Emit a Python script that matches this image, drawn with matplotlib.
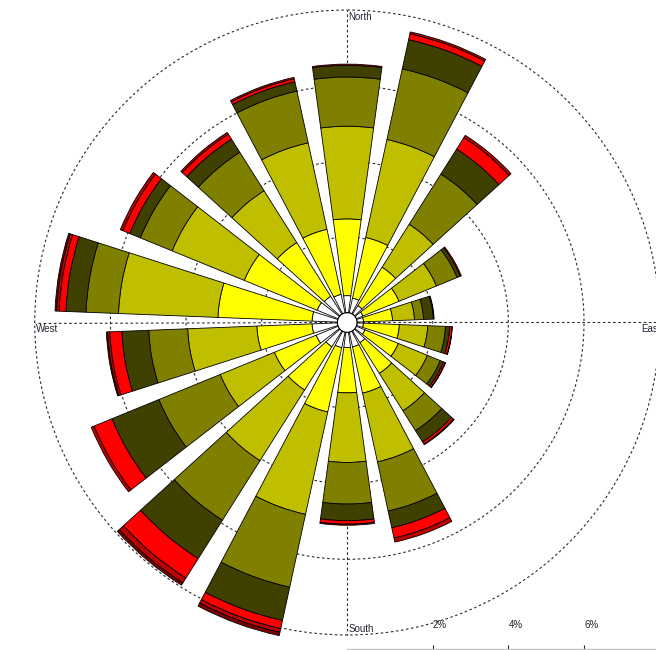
import numpy as np
import matplotlib
matplotlib.use("Agg")
import matplotlib.pyplot as plt

# ---------------- data (percent of time, per direction and speed bin) -------------
directions = [0, 20, 40, 60, 80, 100, 120, 140, 160, 180, 200, 220, 240, 260, 280, 300, 320, 340]

bin_1 = [0.45, 0.40, 0.27, 0.19, 0.17, 0.17, 0.25, 0.37, 0.40, 0.40, 0.42, 0.50, 0.63, 0.67, 0.67, 0.60, 0.56, 0.50]
bin_2 = [2.03, 1.64, 1.20, 1.03, 0.77, 0.95, 0.95, 0.96, 1.25, 1.20, 1.74, 1.35, 1.19, 1.46, 2.49, 2.08, 1.68, 1.76]
bin_3 = [2.45, 2.65, 1.34, 1.07, 0.58, 0.75, 0.83, 1.17, 1.86, 1.84, 2.77, 2.21, 1.55, 1.83, 2.63, 2.06, 1.62, 2.34]
bin_4 = [1.30, 1.91, 1.57, 0.59, 0.24, 0.47, 0.37, 0.62, 1.33, 1.10, 1.97, 1.86, 1.75, 1.03, 0.86, 0.91, 1.20, 1.40]
bin_5 = [0.31, 0.79, 0.78, 0.09, 0.26, 0.11, 0.09, 0.35, 0.45, 0.44, 0.90, 1.20, 1.34, 0.71, 0.53, 0.30, 0.41, 0.25]
bin_6 = [0.03, 0.16, 0.36, 0.03, 0.02, 0.06, 0.05, 0.07, 0.28, 0.09, 0.22, 0.61, 0.51, 0.32, 0.18, 0.20, 0.16, 0.08]
bin_7 = [0.00, 0.05, 0.07, 0.00, 0.00, 0.01, 0.01, 0.02, 0.11, 0.03, 0.10, 0.15, 0.08, 0.06, 0.07, 0.07, 0.05, 0.04]
bin_8 = [0.00, 0.00, 0.00, 0.00, 0.00, 0.00, 0.00, 0.00, 0.00, 0.00, 0.09, 0.07, 0.00, 0.03, 0.04, 0.00, 0.00, 0.00]

bin_colors = ["#FFFFFF", "#FFFF00", "#BFBF00", "#808000", "#404000",
              "#FF0000", "#BF0000", "#800000"]

compass_labels = ["North", "East", "South", "West"]
compass_angles = [0, 90, 180, 270]
ring_values = [2, 4, 6, 8]
scale_ticks = [2, 4, 6]
scale_labels = ["2%", "4%", "6%"]

# ---------------- figure -------------
plt.rcParams['font.family'] = ['Liberation Sans', 'DejaVu Sans']
fig = plt.figure(figsize=(6.56, 6.5), dpi=100)
fig.patch.set_facecolor("white")

W, H = 656.0, 650.0
cx, cy = 347.2, 322.5          # centre in pixels (from top-left)
px_per_pct = 37.83
offset = 0.26                  # central hole, in percent units
rmax = 8.6
R = (rmax + offset) * px_per_pct

ax = fig.add_axes([(cx - R) / W, (H - cy - R) / H, 2 * R / W, 2 * R / H],
                  projection="polar")
ax.set_theta_zero_location("N")
ax.set_theta_direction(-1)
ax.set_rorigin(-offset)
ax.set_rlim(0, rmax)
ax.set_facecolor("white")

theta = np.deg2rad(directions)
bar_width = np.deg2rad(15.5)
bottom = np.zeros(len(directions))
for vals, col in zip([bin_1, bin_2, bin_3, bin_4, bin_5, bin_6, bin_7, bin_8], bin_colors):
    v = np.asarray(vals, dtype=float)
    m = v > 0
    ax.bar(theta[m], v[m], width=bar_width, bottom=bottom[m], color=col,
           edgecolor="black", linewidth=0.6, zorder=2)
    bottom += v

grid_style = dict(color="#2a2a2a", linewidth=0.8, linestyle=(0, (2.3, 2.3)))
ax.set_rticks(ring_values)
ax.set_yticklabels([])
ax.set_xticks([])
ax.yaxis.grid(True, **grid_style)
ax.xaxis.grid(False)
ax.set_axisbelow(True)
for a in compass_angles:
    ax.plot([np.deg2rad(a)] * 2, [0, ring_values[-1]], zorder=1, **grid_style)

ax.spines["polar"].set_visible(False)
if "inner" in ax.spines:
    ax.spines["inner"].set_color("black")
    ax.spines["inner"].set_linewidth(0.8)

txt = dict(fontsize=7, color="#202030", ha="left", va="top",
           textcoords="offset points", annotation_clip=False)
label_r = {"North": 8.0, "East": 7.48, "South": 7.66, "West": 8.0}
for lab, a in zip(compass_labels, compass_angles):
    ax.annotate(lab, xy=(np.deg2rad(a), label_r[lab]), xytext=(1, -1.2), **txt)

# ---------------- scale axis along the bottom -------------
right_px = 700.0
sax = fig.add_axes([cx / W, 1.0 / H, (right_px - cx) / W, 17.4 / H])
sax.set_xlim(-offset, -offset + (right_px - cx) / px_per_pct)
sax.set_ylim(0, 1)
sax.patch.set_alpha(0)
for s in ["top", "left", "right"]:
    sax.spines[s].set_visible(False)
sax.spines["bottom"].set_color("#c4c4c4")
sax.spines["bottom"].set_linewidth(1.0)
sax.set_yticks([])
sax.set_xticks(scale_ticks)
sax.set_xticklabels(scale_labels)
sax.tick_params(axis="x", direction="in", length=3, width=0.8, color="#222222",
                bottom=True, top=False, labelbottom=False, labeltop=True,
                pad=1, labelsize=7, labelcolor="#202030")
for t in sax.get_xticklabels():
    t.set_horizontalalignment("left")

fig.savefig("out.png", dpi=100)
